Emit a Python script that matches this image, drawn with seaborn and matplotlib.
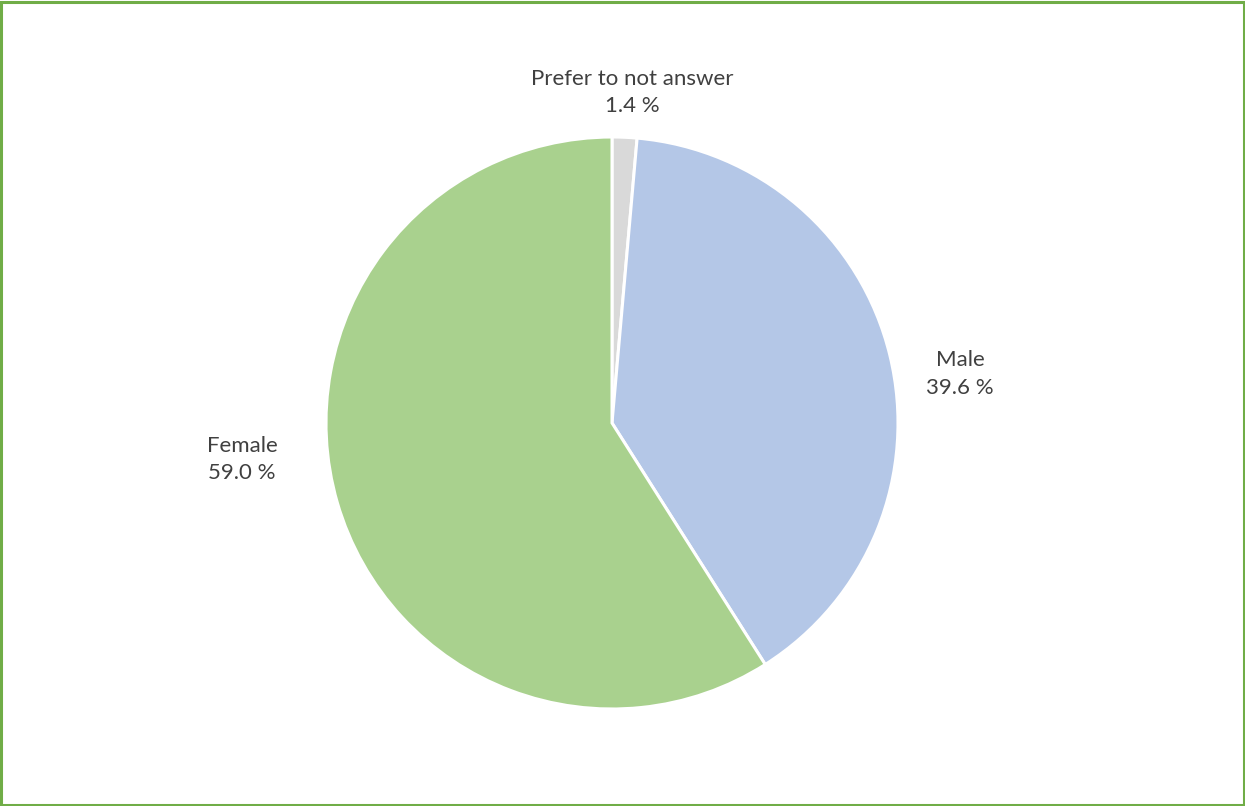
import matplotlib
matplotlib.use("Agg")
import matplotlib.pyplot as plt
import seaborn as sns
from matplotlib.patches import Rectangle

sns.set_theme(style="white")
plt.rcParams['font.family'] = ['Lato', 'DejaVu Sans']

# Data
categories = ['Prefer to not answer', 'Male', 'Female']
shares = [1.4, 39.6, 59.0]
colors = ['#D9D9D9', '#B4C7E7', '#A9D18E']

fig = plt.figure(figsize=(12.45, 8.06), dpi=100)
# pie centre at (612, 423) px, radius 286 px
ax = fig.add_axes([(612 - 286) / 1245, (806 - 423 - 286) / 806, 572 / 1245, 572 / 806])
ax.pie(shares, colors=colors, startangle=90, counterclock=False, radius=1,
       wedgeprops=dict(edgecolor='white', linewidth=2.2))
ax.set_xlim(-1, 1)
ax.set_ylim(-1, 1)
ax.set_aspect('equal')
ax.axis('off')

label_pos = [(0.07, 1.155), (1.217, 0.171), (-1.294, -0.129)]
for name, val, (x, y) in zip(categories, shares, label_pos):
    ax.text(x, y, f"{name}\n{val:.1f} %", ha='center', va='center',
            fontsize=16, color='#404040', linespacing=1.45, clip_on=False)

fig.patches.append(Rectangle((0.001, 0.001), 0.998, 0.997, transform=fig.transFigure,
                             fill=False, edgecolor='#70AD47', linewidth=2.2))

fig.savefig('out.png', dpi=100, facecolor='white')
